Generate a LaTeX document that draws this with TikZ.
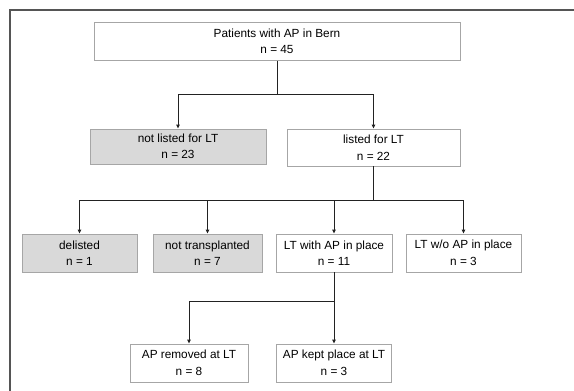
\documentclass[tikz,border=0pt]{standalone}
\usepackage{fontspec}
\setmainfont{Liberation Sans}
\usetikzlibrary{arrows.meta}
\definecolor{boxline}{HTML}{A6A6A6}
\definecolor{boxgrey}{HTML}{D9D9D9}
\definecolor{frameline}{HTML}{555555}
\definecolor{connline}{HTML}{222222}
\begin{document}
\begin{tikzpicture}[x=1pt,y=-1pt,
  box/.style={draw=boxline,line width=0.9pt,fill=white,rectangle,inner sep=0pt,
    align=center,font=\fontsize{11.8}{16.5}\selectfont},
  greybox/.style={box,fill=boxgrey},
  conn/.style={draw=connline,line width=1pt,-{Triangle[length=4pt,width=3.6pt]}},
  plain/.style={draw=connline,line width=1pt}]
\useasboundingbox (0,0) rectangle (574,391);
\fill[white] (0,0) rectangle (574,391);
\draw[frameline,line width=1.3pt] (10,392) -- (10,10) -- (575,10);

\node[box,minimum width=366pt,minimum height=38pt] (top) at (277,41.5) {Patients with AP in Bern\\n = 45};
\node[greybox,minimum width=176pt,minimum height=35pt] (nl) at (178,146.5) {not listed for LT\\n = 23};
\node[box,minimum width=173pt,minimum height=37pt] (li) at (373.5,147.5) {listed for LT\\n = 22};

\node[greybox,minimum width=115pt,minimum height=38pt] (de) at (79.5,253) {delisted\\n = 1};
\node[greybox,minimum width=109pt,minimum height=38pt] (nt) at (207.5,253) {not transplanted\\n = 7};
\node[box,minimum width=116pt,minimum height=38pt] (wi) at (334,253) {LT with AP in place\\n = 11};
\node[box,minimum width=115pt,minimum height=38pt] (wo) at (463.5,253) {LT w/o AP in place\\n = 3};

\node[box,minimum width=118pt,minimum height=38pt] (rm) at (189,363) {AP removed at LT\\n = 8};
\node[box,minimum width=115pt,minimum height=38pt] (kp) at (334,363) {AP kept place at LT\\n = 3};

\coordinate (j1) at (277,94);
\coordinate (j2) at (373.5,200);
\coordinate (j3) at (334,301);

\draw[plain] (top.south) -- (j1);
\draw[conn] (j1) -| (nl.north);
\draw[conn] (j1) -| (li.north);

\draw[plain] (li.south) -- (j2);
\draw[conn] (j2) -| (de.north);
\draw[conn] (j2) -| (nt.north);
\draw[conn] (j2) -| (wi.north);
\draw[conn] (j2) -| (wo.north);

\draw[plain] (wi.south) -- (j3);
\draw[conn] (j3) -| (rm.north);
\draw[conn] (j3) -- (kp.north);
\end{tikzpicture}
\end{document}
